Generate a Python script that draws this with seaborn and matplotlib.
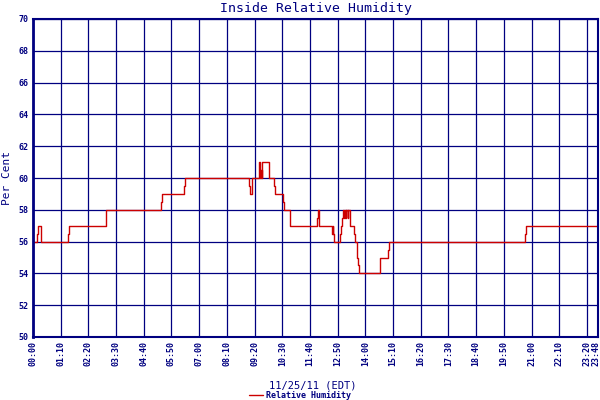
import matplotlib
matplotlib.use("Agg")
import matplotlib.pyplot as plt
import matplotlib.transforms as mtrans
import pandas as pd
import seaborn as sns

# step change points (minutes after midnight, % humidity)
minutes = [0, 11, 13, 21, 89, 92, 185, 324, 327, 382, 385, 547, 549, 553,
           572, 574, 576, 578, 580, 596, 610, 612, 632, 635, 649, 718, 720,
           723, 755, 757, 758, 760, 777, 779, 781, 783, 786, 788, 790, 792,
           795, 797, 801, 812, 814, 818, 820, 822, 824, 878, 896, 900, 1243,
           1246, 1428]
humidity = [56, 56.5, 57, 56, 56.5, 57, 58, 58.5, 59, 59.5, 60, 59.5, 59, 60,
            61, 60, 60.5, 60, 61, 60, 59.5, 59, 58.5, 58, 57, 57.5, 58,
            57, 56.5, 57, 56.5, 56, 56.5, 57, 57.5, 58, 57.5, 58, 57.5, 58,
            57.5, 58, 57, 56.5, 56, 55.5, 55, 54.5, 54, 55, 55.5, 56, 56.5,
            57, 57]

tick_minutes = list(range(0, 1401, 70)) + [1428]
tick_labels = [f"{m // 60:02d}:{m % 60:02d}" for m in tick_minutes]
y_ticks = list(range(50, 71, 2))

NAVY = "#000080"
RED = "#cc0000"
MONO = "DejaVu Sans Mono"

df = pd.DataFrame({"minute": minutes, "rh": humidity})

sns.set_style("white")
fig = plt.figure(figsize=(6, 4), dpi=100)
ax = fig.add_axes([33 / 600, 63 / 400, 565 / 600, 318 / 400])

sns.lineplot(data=df, x="minute", y="rh", ax=ax, color=RED, linewidth=1.0,
             drawstyle="steps-post", estimator=None, label="Relative Humidity",
             legend=False)

ax.set_xlim(0, 1428)
ax.set_ylim(50, 70)
ax.set_xticks(tick_minutes)
ax.set_xticklabels(tick_labels, rotation=90, fontsize=6, fontfamily=MONO,
                   fontweight="bold", color=NAVY)
ax.set_yticks(y_ticks)
ax.set_yticklabels([str(v) for v in y_ticks], fontsize=6, fontfamily=MONO,
                   fontweight="bold", color=NAVY)
ax.tick_params(length=0, pad=3)
# keep the last time label inside the picture
last = ax.get_xticklabels()[-1]
last.set_transform(last.get_transform()
                   + mtrans.ScaledTranslation(-2 / 100, 0, fig.dpi_scale_trans))

ax.grid(True, color=NAVY, linewidth=0.9)
ax.set_axisbelow(True)
for side, lw in [("left", 2.0), ("bottom", 1.5), ("top", 1.5), ("right", 1.5)]:
    ax.spines[side].set_color(NAVY)
    ax.spines[side].set_linewidth(lw)

ax.set_title("Inside Relative Humidity", fontsize=9.5, fontfamily=MONO,
             color=NAVY, pad=5)
ax.set_xlabel("11/25/11 (EDT)", fontsize=7.5, fontfamily=MONO, color=NAVY)
ax.xaxis.set_label_coords(0.495, -43 / 318)
ax.set_ylabel("Per Cent", fontsize=8, fontfamily=MONO, color=NAVY)
ax.yaxis.set_label_coords(-21 / 565, 0.5)

fig.legend(loc="center", bbox_to_anchor=(0.5, 5 / 400), frameon=False,
           handlelength=1.6, handletextpad=0.4,
           prop={"family": MONO, "size": 6, "weight": "bold"},
           labelcolor=NAVY)

fig.savefig("out.png", dpi=100)
